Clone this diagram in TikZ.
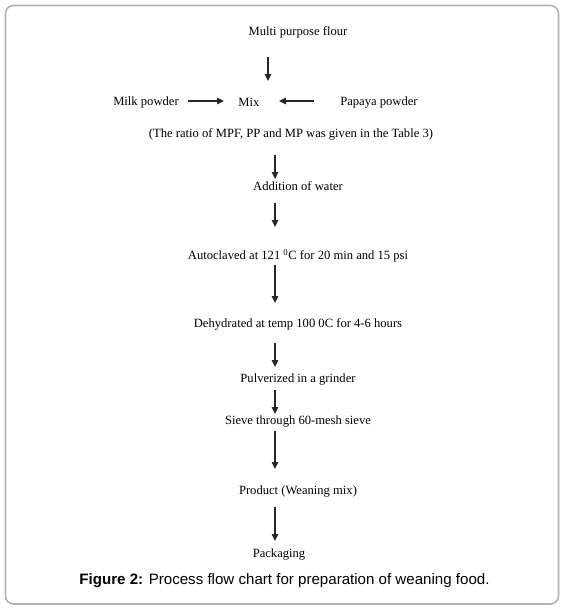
\documentclass[tikz,border=0pt]{standalone}
\usepackage{fontspec}
\setmainfont{Liberation Serif}
\newfontfamily\capfont{Liberation Sans}
\usetikzlibrary{arrows.meta}
\begin{document}
\begin{tikzpicture}[x=1pt,y=-1pt,
  lbl/.style={inner sep=0pt,font=\fontsize{12.6}{14}\selectfont,anchor=center},
  flow/.style={line width=1.2pt,draw=black!85,-{Triangle[length=7pt,width=6.5pt]}}]
\useasboundingbox (0,0) rectangle (565,614);
\draw[draw=black!30,line width=1.6pt,rounded corners=8pt] (5.5,5.5) rectangle (558.5,604);
\node[lbl] (mpf) at (298,32) {Multi purpose flour};
\node[lbl] (milk) at (146,102) {Milk powder};
\node[lbl] (mix) at (249,102) {Mix};
\node[lbl] (pap) at (379,102) {Papaya powder};
\node[lbl] (ratio) at (291,134) {(The ratio of MPF, PP and MP was given in the Table 3)};
\node[lbl] (water) at (298,186) {Addition of water};
\node[lbl] (auto) at (298,256) {Autoclaved at 121 \textsuperscript{0}C for 20 min and 15 psi};
\node[lbl] (dehyd) at (298,324) {Dehydrated at temp 100 0C for 4-6 hours};
\node[lbl] (pulv) at (298,379) {Pulverized in a grinder};
\node[lbl] (sieve) at (298,421) {Sieve through 60-mesh sieve};
\node[lbl] (prod) at (298,491) {Product (Weaning mix)};
\node[lbl] (pack) at (279,554) {Packaging};
\node[inner sep=0pt,font=\capfont\fontsize{15.1}{17}\selectfont] (cap) at (284.5,580.5) {\textbf{Figure 2:} Process flow chart for preparation of weaning food.};
\coordinate (a1s) at (268,57); \coordinate (a1e) at (268,81);
\coordinate (mls) at (188,101); \coordinate (mle) at (224,101);
\coordinate (prs) at (314,101); \coordinate (pre) at (279,101);
\coordinate (a2s) at (275,155); \coordinate (a2e) at (275,179);
\coordinate (a3s) at (275,203); \coordinate (a3e) at (275,227);
\coordinate (a4s) at (275,265); \coordinate (a4e) at (275,303);
\coordinate (a5s) at (275,343); \coordinate (a5e) at (275,367);
\coordinate (a6s) at (275,390); \coordinate (a6e) at (275,414);
\coordinate (a7s) at (275,431); \coordinate (a7e) at (275,469);
\coordinate (a8s) at (275,507); \coordinate (a8e) at (275,541);
\draw[flow] (a1s) -- (a1e);
\draw[flow] (mls) -- (mle);
\draw[flow] (prs) -- (pre);
\draw[flow] (a2s) -- (a2e);
\draw[flow] (a3s) -- (a3e);
\draw[flow] (a4s) -- (a4e);
\draw[flow] (a5s) -- (a5e);
\draw[flow] (a6s) -- (a6e);
\draw[flow] (a7s) -- (a7e);
\draw[flow] (a8s) -- (a8e);
\end{tikzpicture}
\end{document}
